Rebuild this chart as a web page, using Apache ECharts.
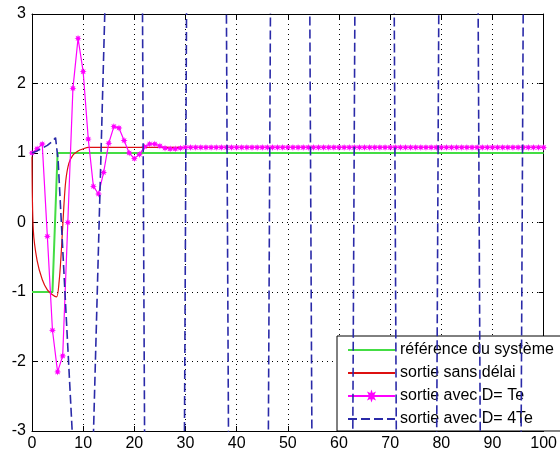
<!DOCTYPE html>
<html><head><meta charset="utf-8">
<script src="https://cdn.jsdelivr.net/npm/echarts@6/dist/echarts.min.js"></script>
<style>html,body{margin:0;padding:0;background:#fff}#c{width:560px;height:452px}</style>
</head><body><div id="c"></div>
<script>
// ---- data ----
const seriesNames = ['référence du système', 'sortie sans délai', 'sortie avec D= Te', 'sortie avec D= 4Te'];
const xTickValues = [0, 10, 20, 30, 40, 50, 60, 70, 80, 90, 100];
const yTickValues = [-3, -2, -1, 0, 1, 2, 3];

// reference (green)
const refX = [0, 4, 5, 100];
const refY = [-1, -1, 1, 1];

// output without delay (red)
const redX = [0, 0.25, 1, 2, 3, 4, 4.8, 5.3, 5.7, 6.2, 6.6, 7.2, 8, 9, 10, 11, 20, 40, 60, 80, 100];
const redY = [0.95, -0.1, -0.55, -0.82, -0.97, -1.04, -1.07, -0.85, -0.45, 0.2, 0.6, 0.85, 0.97, 1.03, 1.06, 1.08, 1.08, 1.08, 1.08, 1.08, 1.08];

// output with D = Te (magenta, one sample per unit, x = 0..100)
const teY = [1.00, 1.06, 1.13, -0.20, -1.55, -2.15, -1.92, 0.00, 1.93, 2.65,
             2.17, 1.20, 0.52, 0.41, 0.72, 1.14, 1.38, 1.36, 1.18, 1.00,
             0.92, 0.98, 1.09, 1.13, 1.13, 1.10, 1.07, 1.06, 1.06, 1.07,
             1.08, 1.08, 1.08, 1.08, 1.08, 1.08, 1.08, 1.08, 1.08, 1.08,
             1.08, 1.08, 1.08, 1.08, 1.08, 1.08, 1.08, 1.08, 1.08, 1.08,
             1.08, 1.08, 1.08, 1.08, 1.08, 1.08, 1.08, 1.08, 1.08, 1.08,
             1.08, 1.08, 1.08, 1.08, 1.08, 1.08, 1.08, 1.08, 1.08, 1.08,
             1.08, 1.08, 1.08, 1.08, 1.08, 1.08, 1.08, 1.08, 1.08, 1.08,
             1.08, 1.08, 1.08, 1.08, 1.08, 1.08, 1.08, 1.08, 1.08, 1.08,
             1.08, 1.08, 1.08, 1.08, 1.08, 1.08, 1.08, 1.08, 1.08, 1.08,
             1.08];

// output with D = 4Te (blue dashed, diverging oscillation, mostly off-scale)
const d4X = [0, 1, 2, 3, 4, 4.6, 5.1, 10.6, 17, 21.1, 22.5,
             29.3, 30.7, 37.5, 38.9, 45.7, 47.1, 53.8, 55.2, 62.2, 63.6,
             70.3, 71.7, 78.6, 80.0, 86.7, 88.1, 95.1, 96.5, 100];
const d4Y = [1.0, 1.03, 1.07, 1.11, 1.17, 1.22, 0.9, -6.9, 10.6, 10.5, -10.5,
             -10.5, 10.5, 10.5, -10.5, -10.5, 10.5, 10.5, -10.5, -10.5, 10.5,
             10.5, -10.5, -10.5, 10.5, 10.5, -10.5, -10.5, 10.5, 10.5];

// ---- build chart ----
const pairs = (xs, ys) => xs.map((x, i) => [x, ys[i]]);
const teX = teY.map((_, i) => i);
const FONT = "'Liberation Sans', Arial, sans-serif";
const starPath = 'path://M2 1 L1.45 1.19 L1.707 1.707 L1.19 1.45 L1 2 L0.81 1.45 L0.293 1.707 L0.55 1.19 L0 1 L0.55 0.81 L0.293 0.293 L0.81 0.55 L1 0 L1.19 0.55 L1.707 0.293 L1.45 0.81 Z';

const chart = echarts.init(document.getElementById('c'), null, {renderer: 'canvas'});
const axisCommon = {
  type: 'value',
  axisLine: {show: true, onZero: false, lineStyle: {color: '#000', width: 1}},
  axisTick: {show: true, inside: true, length: 5, lineStyle: {color: '#000'}},
};
const hiddenMarker = {opacity: 0};
chart.setOption({
  animation: false,
  backgroundColor: '#fff',
  textStyle: {fontFamily: FONT},
  grid: {left: 32, right: 3, top: 14, bottom: 21, containLabel: false},
  xAxis: [
    Object.assign({}, axisCommon, {
      position: 'bottom', min: xTickValues[0], max: xTickValues[xTickValues.length - 1], interval: 10,
      axisLabel: {color: '#000', fontSize: 16, fontFamily: FONT, margin: 5,
        formatter: v => xTickValues.includes(v) ? String(v) : ''},
      splitLine: {show: true, lineStyle: {color: '#000', type: [1, 4], width: 1}}
    }),
    Object.assign({}, axisCommon, {
      position: 'top', min: 0, max: 100, interval: 10,
      axisLabel: {show: false}, splitLine: {show: false}
    })
  ],
  yAxis: [
    Object.assign({}, axisCommon, {
      position: 'left', min: yTickValues[0], max: yTickValues[yTickValues.length - 1], interval: 1,
      axisLabel: {color: '#000', fontSize: 16, fontFamily: FONT, margin: 6,
        formatter: v => yTickValues.includes(v) ? String(v) : ''},
      splitLine: {show: true, lineStyle: {color: '#000', type: [1, 4], width: 1}}
    }),
    Object.assign({}, axisCommon, {
      position: 'right', min: -3, max: 3, interval: 1,
      axisLabel: {show: false}, splitLine: {show: false}
    })
  ],
  legend: {
    orient: 'vertical', left: 337, top: 336,
    backgroundColor: '#fff', borderColor: '#000', borderWidth: 1, borderRadius: 0,
    padding: [6, 10, 4, 10],
    itemWidth: 47, itemHeight: 16, itemGap: 7,
    textStyle: {color: '#000', fontSize: 16, fontFamily: FONT},
    data: [
      {name: seriesNames[0], itemStyle: hiddenMarker},
      {name: seriesNames[1], itemStyle: hiddenMarker},
      {name: seriesNames[2]},
      {name: seriesNames[3], itemStyle: hiddenMarker}
    ]
  },
  series: [
    {name: seriesNames[0], type: 'line', data: pairs(refX, refY), symbol: 'none',
     lineStyle: {color: '#44dd44', width: 2}, itemStyle: {color: '#44dd44'}, z: 2},
    {name: seriesNames[1], type: 'line', data: pairs(redX, redY), symbol: 'none', smooth: 0.3,
     lineStyle: {color: '#dd1010', width: 1.2}, itemStyle: {color: '#dd1010'}, z: 3},
    {name: seriesNames[2], type: 'line', data: pairs(teX, teY), symbol: starPath, symbolSize: 7,
     showSymbol: true, showAllSymbol: true,
     lineStyle: {color: '#ff00ff', width: 1.2}, itemStyle: {color: '#ff00ff'}, z: 4},
    {name: seriesNames[3], type: 'line', data: pairs(d4X, d4Y), symbol: 'none',
     lineStyle: {color: '#2a2aa8', width: 1.6, type: [9, 4]}, itemStyle: {color: '#2a2aa8'}, z: 5}
  ]
});
</script></body></html>
